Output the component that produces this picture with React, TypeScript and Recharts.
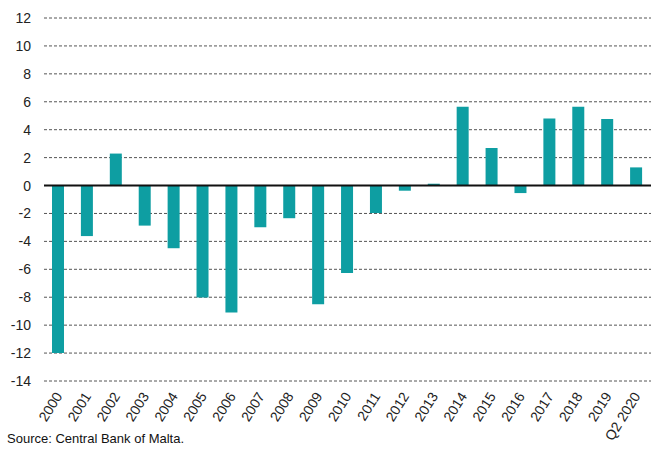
import React from "react";
import { BarChart, Bar, XAxis, YAxis, CartesianGrid, ReferenceLine } from "recharts";

const categories = ["2000","2001","2002","2003","2004","2005","2006","2007","2008","2009","2010","2011","2012","2013","2014","2015","2016","2017","2018","2019","Q2 2020"];
const values = [-12.0,-3.62,2.29,-2.87,-4.49,-8.02,-9.1,-2.99,-2.34,-8.5,-6.26,-1.97,-0.37,0.13,5.65,2.69,-0.54,4.81,5.65,4.76,1.3];
const yTicks = [-14,-12,-10,-8,-6,-4,-2,0,2,4,6,8,10,12];

const data = categories.map((c, i) => ({ name: c, value: values[i] }));

const FONT = "'Liberation Sans', Arial, sans-serif";

const YTick = (props: any) => {
  const { y, payload } = props;
  return (
    <text x={31} y={y} dy={5} textAnchor="end" fontSize={14} fill="#222" fontFamily={FONT}>
      {payload.value}
    </text>
  );
};

const XTick = (props: any) => {
  const { x, y, payload } = props;
  return (
    <g transform={`translate(${x + 1},${y + 5})`}>
      <text x={0} y={0} dy={4} textAnchor="end" transform="rotate(-58)" fontSize={14} fill="#222" fontFamily={FONT}>
        {payload.value}
      </text>
    </g>
  );
};

export default function App() {
  return (
    <div style={{ position: "absolute", left: 0, top: 0, width: 651, height: 450, background: "#fff" }}>
      <BarChart width={651} height={450} data={data} margin={{ top: 18, right: 0, left: 0, bottom: 0 }}>
        <CartesianGrid vertical={false} stroke="#555" strokeDasharray="3 2" />
        <XAxis dataKey="name" interval={0} axisLine={false} tickLine={false} height={69} tick={<XTick />} />
        <YAxis domain={[-14, 12]} ticks={yTicks} width={44} axisLine={false} tickLine={false} tick={<YTick />} interval={0} />
        <Bar dataKey="value" fill="#0E9EA2" barSize={12} isAnimationActive={false} />
        <ReferenceLine y={0} stroke="#111" strokeWidth={2} />
      </BarChart>
      <div style={{ position: "absolute", left: 7, top: 431, fontSize: 13, fontFamily: FONT, color: "#111" }}>
        Source: Central Bank of Malta.
      </div>
    </div>
  );
}
